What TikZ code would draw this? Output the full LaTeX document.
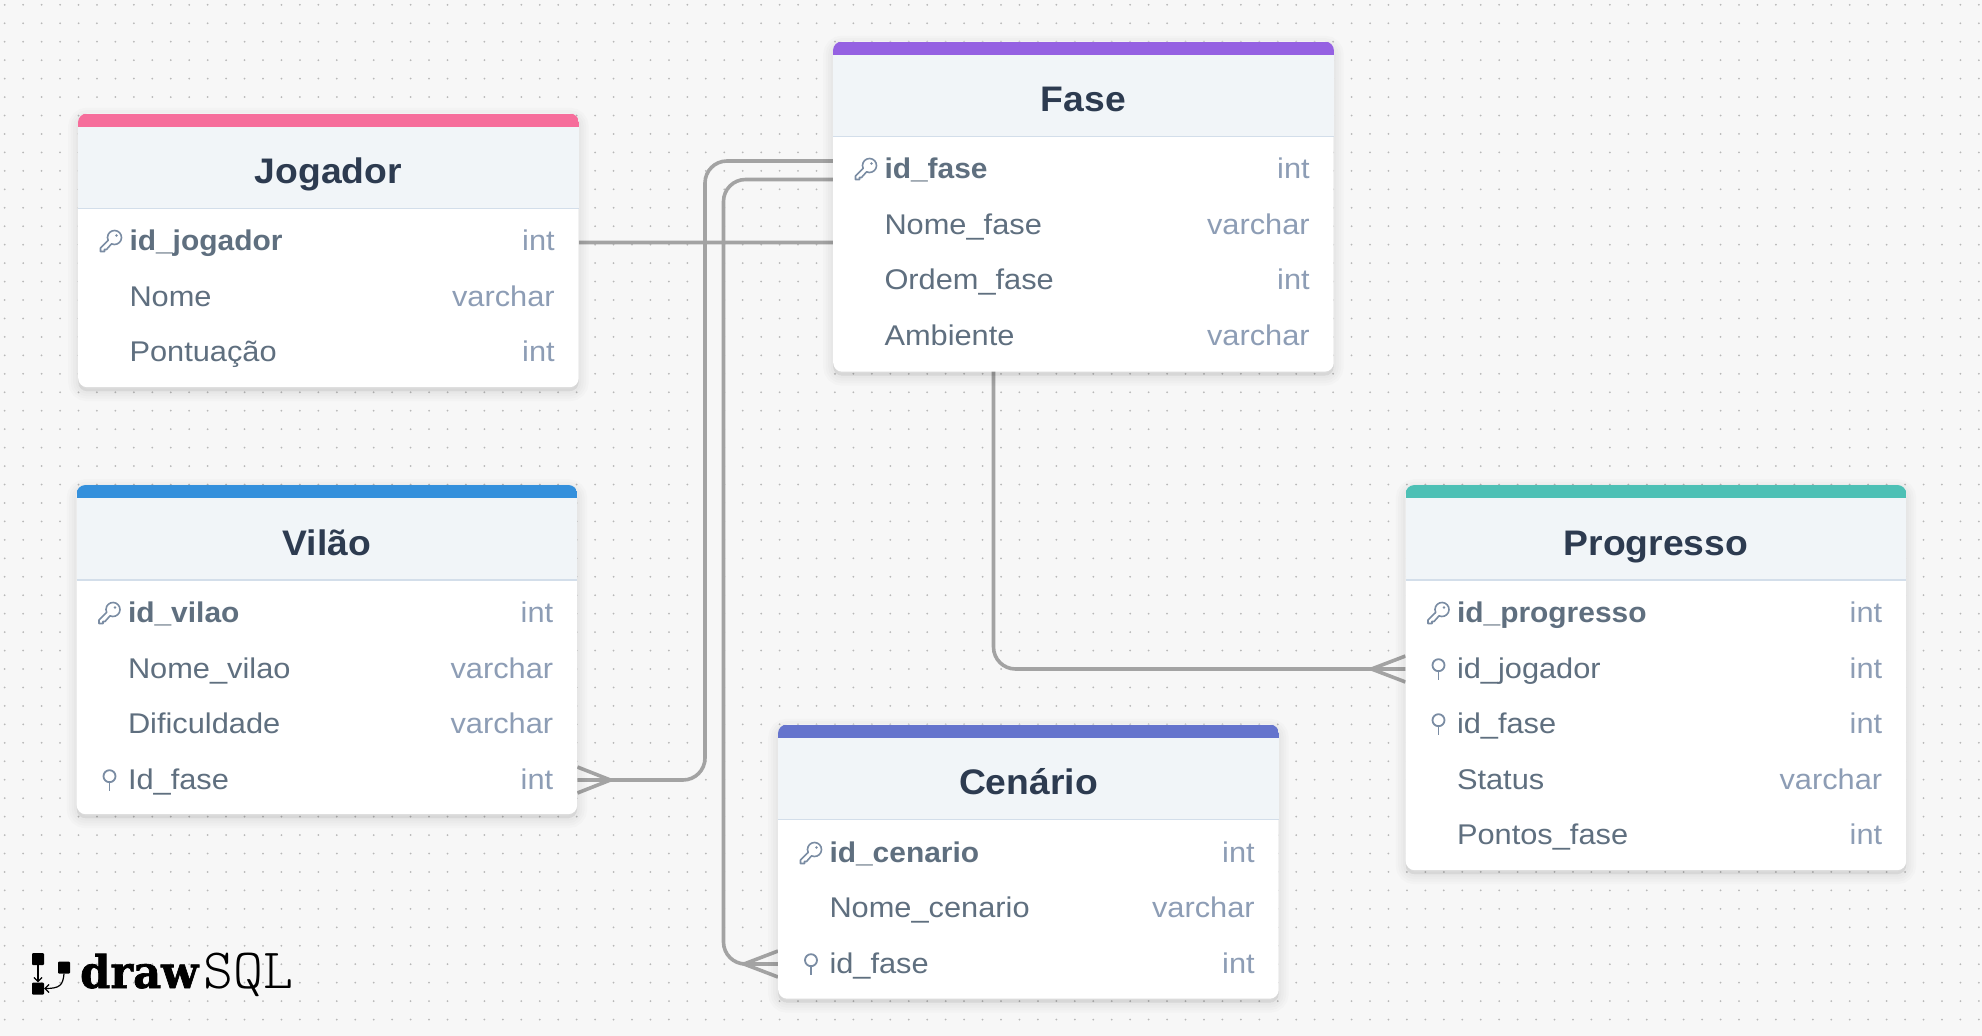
\documentclass[tikz,border=0pt]{standalone}
\usepackage{fontspec}
\setmainfont{Liberation Sans}[FakeStretch=1.08,BoldFeatures={FakeStretch=1.05}]
\newfontfamily\drawfont{DejaVu Serif}[FakeStretch=0.96,BoldFeatures={FakeBold=1.5}]
\usetikzlibrary{arrows.meta}
\definecolor{paper}{HTML}{F7F7F7}
\definecolor{griddot}{HTML}{B8B8B8}
\definecolor{headfill}{HTML}{F1F5F8}
\definecolor{headrule}{HTML}{D3DEEA}
\definecolor{titlecol}{HTML}{2D3B50}
\definecolor{namecol}{HTML}{5F6F7F}
\definecolor{typecol}{HTML}{8D9DB5}
\definecolor{iconcol}{HTML}{7A8CA3}
\definecolor{relcol}{HTML}{A3A3A3}
\definecolor{barpink}{HTML}{F66D9B}
\definecolor{barpurple}{HTML}{9561E2}
\definecolor{barblue}{HTML}{3490DC}
\definecolor{barteal}{HTML}{4DC0B5}
\definecolor{barindigo}{HTML}{6574CD}
\pgfdeclarelayer{grid}
\pgfdeclarelayer{rels}
\pgfsetlayers{grid,rels,main}
\newcommand{\rowtext}[2]{\hspace*{39.3pt}#1\hfill{\mdseries\color{typecol}#2}\hspace*{12pt}}
\newcommand{\cardtop}[3]{
\begin{scope}
\clip[rounded corners=9pt] (#1.north west) rectangle (#1.south east);
\fill[headfill] (#1.north west) rectangle ([yshift=-95pt]#1.north east);
\fill[#2] (#1.north west) rectangle ([yshift=-13pt]#1.north east);
\draw[headrule, line width=1.2pt] ([yshift=-95pt]#1.north west) -- ([yshift=-95pt]#1.north east);
\end{scope}
\node[cardtitle] (#1t) at ([yshift=-57pt]#1.north) {#3};
}
\tikzset{
    softshade/.style={preaction={draw=black, fill=black, opacity=.014, line width=#1, transform canvas={yshift=-4pt}}},
    card/.style={anchor=north west, minimum width=500.5pt, inner sep=0pt, fill=white, rounded corners=9pt,
        softshade=20pt, softshade=15pt, softshade=10pt, softshade=5pt},
    cardtitle/.style={font=\fontsize{35.5}{40}\selectfont\bfseries, text=titlecol, inner sep=0pt, text height=26pt, text depth=0pt},
    rowbox/.style={anchor=west, text width=476.5pt, inner xsep=12pt, inner ysep=0pt, text height=20pt, text depth=0pt,
        font=\fontsize{28.5}{32}\selectfont, text=namecol},
    keyrow/.style={rowbox, font=\fontsize{28.5}{32}\selectfont\bfseries},
    rel/.style={relcol, line width=3.6pt},
    logosq/.style={fill=black, minimum size=12pt, inner sep=0pt, rounded corners=1pt},
    keyicon/.pic={
        \draw[iconcol, line width=1.6pt, line join=round, yscale=-1] (0.54,-2.84) arc (245:565:7) -- (-10.5,-7) -- (-10.5,-10.5) -- (-6.5,-10.5) -- (-6.5,-8.5) -- (-4.5,-8.5) -- cycle;
        \fill[iconcol, yscale=-1] (5.5,5.5) circle (1.3);
    },
    pinicon/.pic={
        \draw[iconcol, line width=1.8pt, yscale=-1] (0,3.8) circle (6);
        \draw[iconcol, line width=1.8pt, yscale=-1] (0,-2.2) -- (0,-11);
    }
}
\begin{document}
\begin{tikzpicture}[x=1pt, y=-1pt]
\useasboundingbox (0,0) rectangle (1982,1036);
\begin{pgfonlayer}{grid}
\fill[paper] (0,0) rectangle (1982,1036);
\foreach \i in {0,...,107} {\foreach \j in {0,...,56} {\fill[griddot] ({4.7+18.45*\i},{4.8+18.45*\j}) circle (1);}}
\end{pgfonlayer}

\node[card, minimum height=273.5pt] (J) at (78,113.5) {};
\cardtop{J}{barpink}{Jogador}
\node[keyrow] (Jid) at (78,240) {\rowtext{id\_jogador}{int}};
\node[rowbox] (Jnome) at (78,296) {\rowtext{Nome}{varchar}};
\node[rowbox] (Jpont) at (78,351.5) {\rowtext{Pontuação}{int}};
\pic at (111,241) {keyicon};

\node[card, minimum height=330pt] (F) at (833,41.5) {};
\cardtop{F}{barpurple}{Fase}
\node[keyrow] (Fid) at (833,168) {\rowtext{id\_fase}{int}};
\node[rowbox] (Fnome) at (833,224) {\rowtext{Nome\_fase}{varchar}};
\node[rowbox] (Fordem) at (833,279.5) {\rowtext{Ordem\_fase}{int}};
\node[rowbox] (Famb) at (833,335) {\rowtext{Ambiente}{varchar}};
\pic at (866,169) {keyicon};

\node[card, minimum height=329pt] (V) at (76.5,485) {};
\cardtop{V}{barblue}{Vilão}
\node[keyrow] (Vid) at (76.5,612) {\rowtext{id\_vilao}{int}};
\node[rowbox] (Vnome) at (76.5,668) {\rowtext{Nome\_vilao}{varchar}};
\node[rowbox] (Vdif) at (76.5,723) {\rowtext{Dificuldade}{varchar}};
\node[rowbox] (Vfase) at (76.5,779) {\rowtext{Id\_fase}{int}};
\pic at (109.5,613) {keyicon};
\pic at (109.5,780) {pinicon};

\node[card, minimum height=385pt] (P) at (1405.5,485) {};
\cardtop{P}{barteal}{Progresso}
\node[keyrow] (Pid) at (1405.5,612) {\rowtext{id\_progresso}{int}};
\node[rowbox] (Pjog) at (1405.5,668) {\rowtext{id\_jogador}{int}};
\node[rowbox] (Pfase) at (1405.5,723) {\rowtext{id\_fase}{int}};
\node[rowbox] (Pstat) at (1405.5,779) {\rowtext{Status}{varchar}};
\node[rowbox] (Ppont) at (1405.5,834) {\rowtext{Pontos\_fase}{int}};
\pic at (1438.5,613) {keyicon};
\pic at (1438.5,669) {pinicon};
\pic at (1438.5,724) {pinicon};

\node[card, minimum height=274pt] (C) at (778,724.5) {};
\cardtop{C}{barindigo}{Cenário}
\node[keyrow] (Cid) at (778,852) {\rowtext{id\_cenario}{int}};
\node[rowbox] (Cnome) at (778,907.5) {\rowtext{Nome\_cenario}{varchar}};
\node[rowbox] (Cfase) at (778,963) {\rowtext{id\_fase}{int}};
\pic at (811,853) {keyicon};
\pic at (811,964) {pinicon};

\begin{pgfonlayer}{rels}
\draw[rel, rounded corners=22pt] ([yshift=-2.5pt]Jid.east) -- (993.5,242.5) -- (993.5,669) -- ([yshift=-1pt]Pjog.west);
\draw[rel, rounded corners=22pt] ([yshift=7pt]Fid.west) -- (705,161) -- (705,780) -- ([yshift=-1pt]Vfase.east);
\draw[rel, rounded corners=22pt] ([yshift=-11.5pt]Fid.west) -- (723.5,179.5) -- (723.5,964) -- ([yshift=-1pt]Cfase.west);
\draw[rel] ([yshift=12pt]Pjog.west) -- ([xshift=-34pt,yshift=-1pt]Pjog.west) -- ([yshift=-14pt]Pjog.west);
\draw[rel] ([yshift=12pt]Vfase.east) -- ([xshift=33pt,yshift=-1pt]Vfase.east) -- ([yshift=-14pt]Vfase.east);
\draw[rel] ([yshift=12pt]Cfase.west) -- ([xshift=-34pt,yshift=-1pt]Cfase.west) -- ([yshift=-14pt]Cfase.west);
\end{pgfonlayer}

\node[logosq] (La) at (38,959) {};
\node[logosq] (Lb) at (38,988.5) {};
\node[logosq] (Lc) at (64,967.5) {};
\draw[-{Straight Barb[length=4pt]}, line width=1.2pt] (La) -- (Lb);
\draw[-{Straight Barb[length=4pt]}, line width=1.2pt] (Lc.south) .. controls (63,985) and (60,988.5) .. (Lb.east);
\node[anchor=base west, inner sep=0pt, font=\drawfont\fontsize{45}{50}\selectfont\bfseries] (Ldraw) at (80,988) {draw};
\node[anchor=base west, inner sep=0pt, font=\ttfamily\fontseries{l}\fontsize{57}{60}\selectfont] (Lsql) at (203,988) {SQL};
\end{tikzpicture}
\end{document}
